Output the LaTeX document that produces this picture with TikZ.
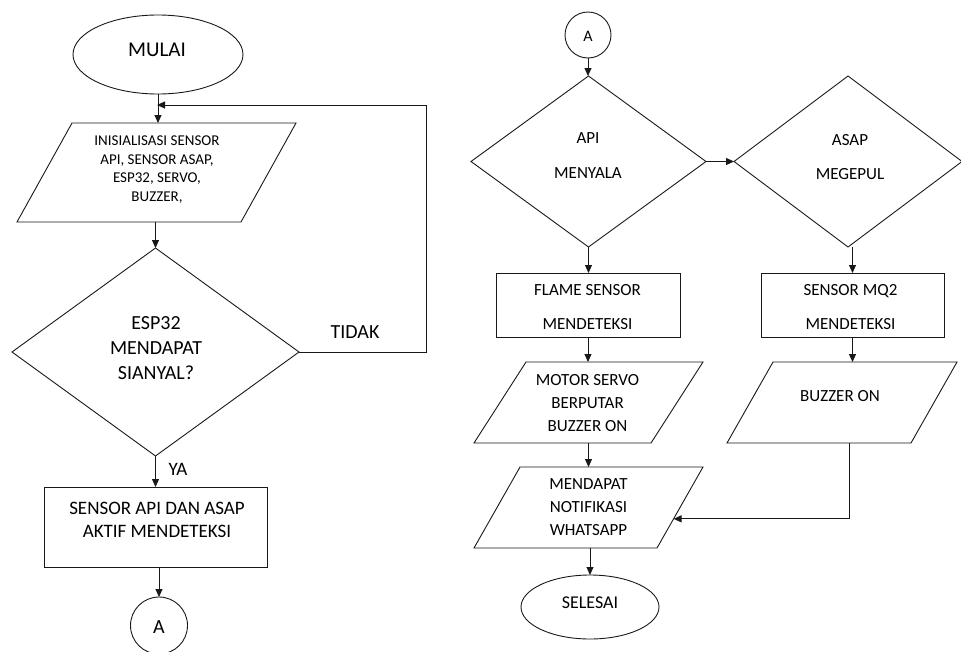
\documentclass[tikz,border=0pt]{standalone}
\usepackage{fontspec}
\setmainfont{Carlito}
\usetikzlibrary{shapes.geometric,arrows.meta,calc}
\newcommand\drawpara[2]{% node name, slant
  \draw[draw=black!90] ([xshift=#2]#1.north west) -- (#1.north east) -- ([xshift=-#2]#1.south east) -- (#1.south west) -- cycle;}
\begin{document}
\begin{tikzpicture}[x=1pt,y=-1pt,
  line width=0.9pt,
  shp/.style={draw=black!90, inner sep=0pt, outer sep=0pt},
  term/.style={shp, ellipse},
  proc/.style={shp, rectangle},
  dec/.style={shp, diamond},
  io/.style={inner sep=0pt, outer sep=0pt, rectangle},
  con/.style={shp, circle},
  txt/.style={inner sep=0pt, align=center, anchor=north, text=black},
  arr/.style={draw=black!90, -{Triangle[length=8pt,width=7pt]}},
  ln/.style={draw=black!90}
]
\useasboundingbox (0,0) rectangle (961,651);
\fill[white] (0,0) rectangle (961,651);

% ---------- left column ----------
\node[term, minimum width=170pt, minimum height=79pt] (mulai) at (158,54.5) {};
\node[txt, anchor=center, font=\fontsize{21}{25}\selectfont] (tmulai) at (157,50) {MULAI};

\node[io, minimum width=279pt, minimum height=99pt] (init) at (156.5,172.5) {};
\drawpara{init}{55}
\node[txt, font=\fontsize{15}{18.7}\selectfont] (tinit) at (157,135.2) {INISIALISASI SENSOR\\API, SENSOR ASAP,\\ESP32, SERVO,\\BUZZER,};

\node[dec, minimum width=287pt, minimum height=208pt] (cek) at (155.5,352) {};
\node[txt, font=\fontsize{20}{25}\selectfont] (tcek) at (156,315.6) {ESP32\\MENDAPAT\\SIANYAL?};

\node[txt, anchor=center, font=\fontsize{20}{24}\selectfont] (ttidak) at (355,332) {TIDAK};

\node[proc, minimum width=223pt, minimum height=80pt] (aktif) at (155.5,527) {};
\node[txt, font=\fontsize{19}{23}\selectfont] (taktif) at (157,501.9) {SENSOR API DAN ASAP\\AKTIF MENDETEKSI};

\node[con, minimum size=57pt] (conA) at (159,625.5) {};
\node[txt, anchor=center, font=\fontsize{20}{24}\selectfont] (tconA) at (159,627) {A};

\coordinate (loopr) at (426,352);
\coordinate (join) at (157,105);

\draw[arr] (mulai.south) -- (mulai.south |- init.north);
\draw[arr] (cek.east) -- (loopr) |- (join);
\draw[arr] (init.south -| cek.north) -- (cek.north);
\draw[arr] (cek.south) -- (cek.south |- aktif.north);
\node[txt, anchor=center, font=\fontsize{19}{23}\selectfont] (tya) at (178,469) {YA};
\draw[arr] (conA.north |- aktif.south) -- (conA.north);

% ---------- right column ----------
\node[con, minimum size=46pt] (conB) at (588,35) {};
\node[txt, anchor=center, font=\fontsize{16}{20}\selectfont] (tconB) at (588,36) {A};

\node[dec, minimum width=235pt, minimum height=171pt] (api) at (588.5,161.5) {};
\node[txt, font=\fontsize{17}{35}\selectfont] (tapi) at (588,132.5) {API\\MENYALA};

\node[dec, minimum width=228pt, minimum height=171pt] (asap) at (848,161.5) {};
\node[txt, font=\fontsize{17}{34}\selectfont] (tasap) at (850,134.5) {ASAP\\MEGEPUL};

\node[proc, minimum width=184pt, minimum height=64pt] (flame) at (588,305) {};
\node[txt, font=\fontsize{17}{34}\selectfont] (tflame) at (587.5,284.5) {FLAME SENSOR\\MENDETEKSI};

\node[proc, minimum width=183pt, minimum height=64pt] (mq) at (852.5,305) {};
\node[txt, font=\fontsize{17}{34}\selectfont] (tmq) at (850.5,284.5) {SENSOR MQ2\\MENDETEKSI};

\node[io, minimum width=229pt, minimum height=81pt] (servo) at (588.5,402.5) {};
\drawpara{servo}{52}
\node[txt, font=\fontsize{17}{23}\selectfont] (tservo) at (587.5,374.5) {MOTOR SERVO\\BERPUTAR\\BUZZER ON};

\node[io, minimum width=230pt, minimum height=81pt] (buzz) at (842,402.5) {};
\drawpara{buzz}{46}
\node[txt, font=\fontsize{17}{23}\selectfont] (tbuzz) at (840,390.5) {BUZZER ON};

\node[io, minimum width=229pt, minimum height=81pt] (notif) at (588.5,507.5) {};
\drawpara{notif}{46}
\node[txt, font=\fontsize{17}{23}\selectfont] (tnotif) at (588.5,478.5) {MENDAPAT\\NOTIFIKASI\\WHATSAPP};

\node[term, minimum width=138pt, minimum height=64pt] (selesai) at (590,607) {};
\node[txt, anchor=center, font=\fontsize{18}{22}\selectfont] (tselesai) at (590,603) {SELESAI};

\coordinate (nin) at ($(notif.north east)!0.64!([xshift=-46]notif.south east)$);
\coordinate (bzout) at (849,443);

\draw[arr] (conB.south) -- (conB.south |- api.north);
\draw[arr] (api.east) -- (asap.west);
\draw[arr] (api.south) -- (api.south |- flame.north);
\draw[arr] (mq.south |- asap.south) -- (mq.south |- mq.north);
\draw[arr] (flame.south) -- (flame.south |- servo.north);
\draw[arr] (mq.south) -- (mq.south |- buzz.north);
\draw[arr] (servo.south) -- (servo.south |- notif.north);
\draw[arr] (selesai.north |- notif.south) -- (selesai.north);
\draw[arr] (bzout) |- (nin);
\end{tikzpicture}
\end{document}
